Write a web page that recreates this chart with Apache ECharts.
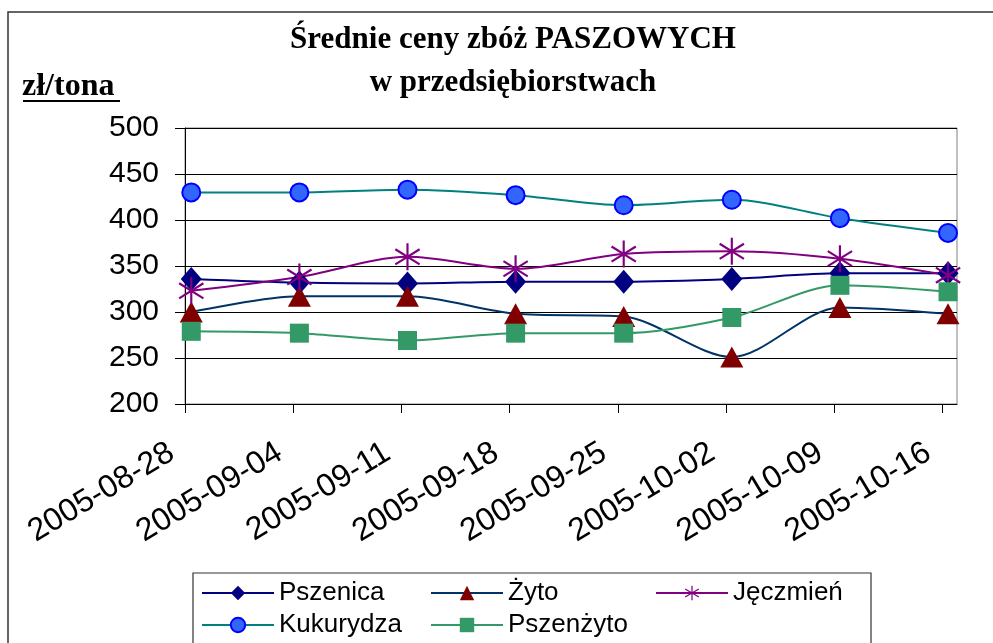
<!DOCTYPE html>
<html>
<head>
<meta charset="utf-8">
<script src="https://cdn.jsdelivr.net/npm/echarts@6/dist/echarts.min.js"></script>
<style>
  html, body { margin: 0; padding: 0; background: #fff; }
  #chart { width: 993px; height: 643px; }
</style>
</head>
<body>
<div id="chart"></div>
<script>
// data
var categories = ['2005-08-28', '2005-09-04', '2005-09-11', '2005-09-18', '2005-09-25', '2005-10-02', '2005-10-09', '2005-10-16'];
var pszenica = [336, 332, 331, 333, 333, 336, 342, 342];
var zyto = [300, 317, 317, 298, 295, 251, 305, 298];
var jeczmien = [323, 338, 360, 347, 363, 366, 358, 340];
var kukurydza = [430, 430, 433, 427, 416, 422, 402, 386];
var pszenzyto = [279, 277, 269, 277, 277, 294, 329, 322];
var yTicks = [200, 250, 300, 350, 400, 450, 500];

var chart = echarts.init(document.getElementById('chart'));

// ticks in the original sit a little left of the points
var tickShift = 0.055;
var tickPos = categories.map(function (c, i) { return i - tickShift; });

function pairs(arr) {
    return arr.map(function (v, i) { return [i, v]; });
}

var starPath = 'path://M46 0L54 0L54 100L46 100Z' +
    'M7.1 18.6L97.1 74.6L92.9 81.4L2.9 25.4Z' +
    'M2.9 74.6L92.9 18.6L97.1 25.4L7.1 81.4Z';

var sans = 'Liberation Sans, Arial, sans-serif';
var serif = 'Liberation Serif, Times New Roman, serif';

// one legend box per item, laid out like the original 3 + 2 grid
function legendItem(name, left, top) {
    return {
        data: [name],
        left: left, top: top,
        padding: 0,
        itemWidth: 72, itemHeight: 18,
        textStyle: { fontSize: 26, fontFamily: sans, color: '#000' }
    };
}

var option = {
    animation: false,
    backgroundColor: '#fff',
    title: {
        text: 'Średnie ceny zbóż PASZOWYCH\nw przedsiębiorstwach',
        left: 508,
        textAlign: 'center',
        top: 13,
        textStyle: {
            fontFamily: serif,
            fontWeight: 'bold',
            fontSize: 31,
            lineHeight: 43,
            color: '#000'
        }
    },
    graphic: [
        {
            type: 'rect',
            shape: { x: 8, y: 12, width: 1000, height: 700 },
            style: { fill: 'none', stroke: '#333', lineWidth: 1.5 },
            silent: true
        },
        {
            type: 'rect',
            shape: { x: 193, y: 573, width: 678, height: 100 },
            style: { fill: 'none', stroke: '#333', lineWidth: 1.2 },
            silent: true
        },
        {
            type: 'text',
            left: 22,
            top: 71,
            style: {
                text: 'zł/tona',
                font: 'bold 32px ' + serif,
                fill: '#000'
            }
        },
        {
            type: 'line',
            shape: { x1: 23, y1: 101, x2: 120, y2: 101 },
            style: { stroke: '#000', lineWidth: 2 }
        }
    ],
    legend: [
        legendItem('Pszenica', 201, 580),
        legendItem('Żyto', 430, 580),
        legendItem('Jęczmień', 655, 580),
        legendItem('Kukurydza', 201, 612),
        legendItem('Pszenżyto', 430, 612)
    ],
    grid: {
        left: 185,
        right: 36,
        top: 128,
        bottom: 239,
        show: true,
        borderColor: '#808080',
        borderWidth: 1
    },
    xAxis: {
        type: 'value',
        min: -0.058,
        max: 7.083,
        axisLine: { onZero: false, lineStyle: { color: '#000', width: 1 } },
        axisTick: {
            customValues: tickPos,
            length: 9,
            lineStyle: { color: '#000' }
        },
        axisLabel: {
            customValues: tickPos,
            formatter: function (v) { return categories[Math.round(v + tickShift)]; },
            rotate: 31,
            margin: 38,
            padding: [0, 16, 0, 0],
            fontSize: 32,
            fontFamily: sans,
            color: '#000'
        },
        splitLine: { show: false }
    },
    yAxis: {
        type: 'value',
        min: yTicks[0],
        max: yTicks[yTicks.length - 1],
        interval: 50,
        axisLine: { show: true, onZero: false, lineStyle: { color: '#000', width: 1 } },
        axisTick: { show: true, length: 10, lineStyle: { color: '#000' } },
        axisLabel: {
            margin: 26,
            fontSize: 30,
            fontFamily: sans,
            color: '#000'
        },
        splitLine: { lineStyle: { color: '#000', width: 1 } }
    },
    series: [
        {
            name: 'Pszenica',
            type: 'line',
            smooth: 0.3,
            data: pairs(pszenica),
            symbol: 'diamond',
            symbolSize: [21, 24],
            lineStyle: { color: '#000080', width: 2 },
            itemStyle: { color: '#000080' }
        },
        {
            name: 'Żyto',
            type: 'line',
            smooth: 0.3,
            data: pairs(zyto),
            symbol: 'triangle',
            symbolSize: [23, 21],
            lineStyle: { color: '#003366', width: 2 },
            itemStyle: { color: '#800000' }
        },
        {
            name: 'Jęczmień',
            type: 'line',
            smooth: 0.3,
            data: pairs(jeczmien),
            symbol: starPath,
            symbolSize: 27,
            symbolKeepAspect: true,
            lineStyle: { color: '#800080', width: 2 },
            itemStyle: { color: '#800080' }
        },
        {
            name: 'Kukurydza',
            type: 'line',
            smooth: 0.3,
            data: pairs(kukurydza),
            symbol: 'circle',
            symbolSize: 18,
            lineStyle: { color: '#008080', width: 2 },
            itemStyle: { color: '#3366FF', borderColor: '#0000FF', borderWidth: 2 }
        },
        {
            name: 'Pszenżyto',
            type: 'line',
            smooth: 0.3,
            data: pairs(pszenzyto),
            symbol: 'rect',
            symbolSize: 19,
            lineStyle: { color: '#339966', width: 2 },
            itemStyle: { color: '#339966' }
        }
    ]
};

chart.setOption(option);

window.addEventListener('resize', function () {
    chart.resize();
});
</script>
</body>
</html>
